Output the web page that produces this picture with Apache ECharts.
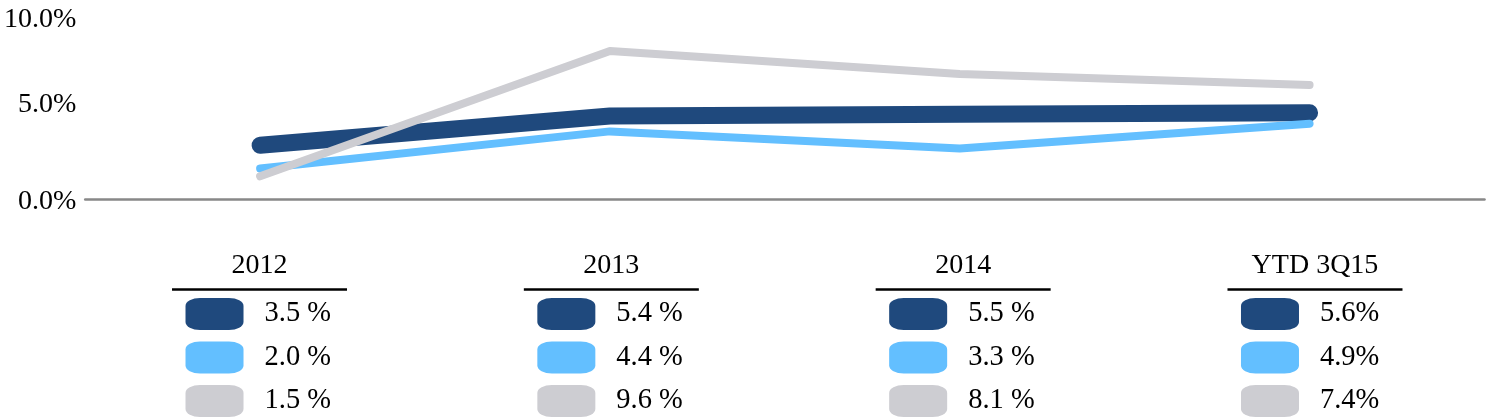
<!DOCTYPE html>
<html>
<head>
<meta charset="utf-8">
<script src="https://cdn.jsdelivr.net/npm/echarts@6/dist/echarts.min.js"></script>
<style>
  html, body { margin: 0; padding: 0; background: #fff; }
  #chart { width: 1500px; height: 419px; }
</style>
</head>
<body>
<div id="chart"></div>
<script>
// ── data ──
const categories = ['2012', '2013', '2014', 'YTD 3Q15']
const darkValues = [3.5, 5.4, 5.5, 5.6]
const lightValues = [2.0, 4.4, 3.3, 4.9]
const grayValues = [1.5, 9.6, 8.1, 7.4]
// the table writes the first three years as "3.5 %", the YTD column as "5.6%"
const valueSuffix = [' %', ' %', ' %', '%']
const yTickLabels = ['0.0%', '5.0%', '10.0%']

const FONT = 'Liberation Serif, Times New Roman, serif'
const DARK = '#1f497d'
const LIGHT = '#63bfff'
const GRAY = '#cdcdd2'

// table rows (in row units, 43.5px each): header text, rule, then three swatch rows
const HEADER_ROW = -1.11
const RULE_ROW = -0.565

const chart = echarts.init(document.getElementById('chart'))

function lineSeries(name, values, color, width) {
	return {
		name,
		type: 'line',
		xAxisIndex: 0,
		yAxisIndex: 0,
		data: values,
		showSymbol: false,
		silent: true,
		lineStyle: { color, width, cap: 'round', join: 'round' },
	}
}

function swatchSeries(name, values, row, color) {
	return {
		name: name + '-table',
		type: 'scatter',
		xAxisIndex: 1,
		yAxisIndex: 2,
		clip: false,
		silent: true,
		symbol: 'roundRect',
		symbolSize: [58, 32],
		symbolOffset: [-45, 0],
		itemStyle: { color, opacity: 1 },
		data: values.map((v, i) => [i, row, v]),
		label: {
			show: true,
			position: 'right',
			distance: 21,
			color: '#000',
			fontFamily: FONT,
			fontSize: 28.5,
			formatter: p => p.value[2].toFixed(1) + valueSuffix[p.dataIndex],
		},
	}
}

const option = {
	animation: false,
	grid: [
		{ left: 85.2, right: 15.5, top: 6, bottom: 219.5 },      // lines
		{ left: 83.6, right: 9.1, top: 248.75, height: 169.65 }, // table
	],
	xAxis: [
		{
			type: 'category',
			gridIndex: 0,
			data: categories,
			boundaryGap: true,
			axisLine: { lineStyle: { color: '#888', width: 2.5 } },
			axisTick: { show: false },
			axisLabel: { show: false },
			splitLine: { show: false },
		},
		{
			type: 'category',
			gridIndex: 1,
			data: categories,
			boundaryGap: true,
			axisLine: { show: false },
			axisTick: { show: false },
			axisLabel: { show: false },
			splitLine: { show: false },
		},
	],
	yAxis: [
		// value scale of the lines
		{
			type: 'value',
			gridIndex: 0,
			min: 0,
			max: 12.5,
			show: false,
		},
		// tick labels as printed on the left
		{
			type: 'value',
			gridIndex: 0,
			min: 0,
			max: 10,
			interval: 5,
			position: 'left',
			axisLine: { show: false },
			axisTick: { show: false },
			splitLine: { show: false },
			axisLabel: {
				margin: 9,
				color: '#000',
				fontFamily: FONT,
				fontSize: 28,
				formatter: v => {
					const t = yTickLabels[Math.round(v / 5)]
					return (v >= 10 ? '{top|' : '{base|') + t + '}'
				},
				rich: {
					base: { fontFamily: FONT, fontSize: 28, color: '#000', padding: [4, 0, 0, 0] },
					top: { fontFamily: FONT, fontSize: 28, color: '#000', padding: [27, 0, 0, 0] },
				},
			},
		},
		// table rows
		{
			type: 'value',
			gridIndex: 1,
			inverse: true,
			min: -1.5,
			max: 2.4,
			show: false,
		},
	],
	series: [
		lineSeries('dark', darkValues, DARK, 17),
		lineSeries('light', lightValues, LIGHT, 8),
		lineSeries('gray', grayValues, GRAY, 8),
		// column headers
		{
			name: 'header',
			type: 'scatter',
			xAxisIndex: 1,
			yAxisIndex: 2,
			clip: false,
			silent: true,
			symbolSize: 0,
			itemStyle: { opacity: 1 },
			data: categories.map((c, i) => [i, HEADER_ROW]),
			label: {
				show: true,
				position: 'inside',
				color: '#000',
				textBorderWidth: 0,
				fontFamily: FONT,
				fontSize: 28,
				formatter: p => categories[p.dataIndex],
			},
		},
		// rule under each header
		{
			name: 'rule',
			type: 'scatter',
			xAxisIndex: 1,
			yAxisIndex: 2,
			clip: false,
			silent: true,
			symbol: 'rect',
			symbolSize: [175, 2.5],
			itemStyle: { color: '#000', opacity: 1 },
			data: categories.map((c, i) => [i, RULE_ROW]),
		},
		swatchSeries('dark', darkValues, 0, DARK),
		swatchSeries('light', lightValues, 1, LIGHT),
		swatchSeries('gray', grayValues, 2, GRAY),
	],
}

chart.setOption(option)
</script>
</body>
</html>
